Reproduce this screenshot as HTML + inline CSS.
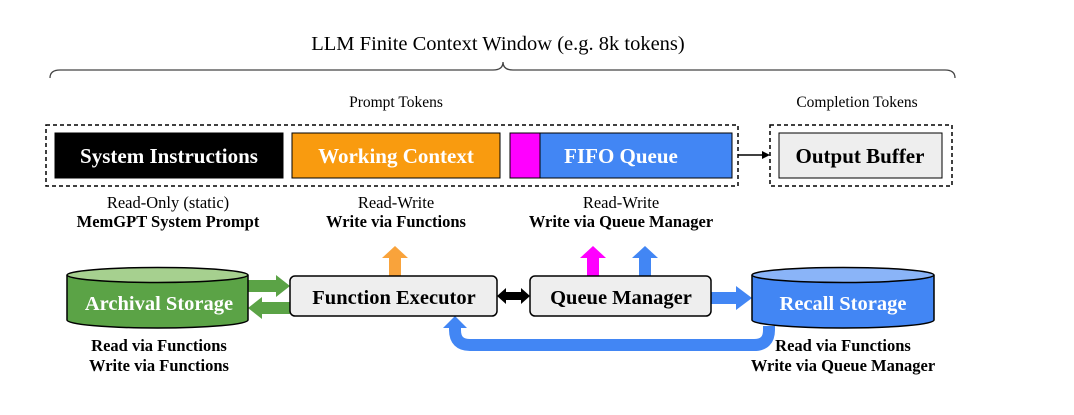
<!DOCTYPE html>
<html><head><style>
body{margin:0;background:#fff;}
svg{display:block;font-family:"Liberation Serif",serif;}
</style></head><body>
<svg width="1074" height="415" viewBox="0 0 1074 415" xmlns="http://www.w3.org/2000/svg">
<text x="498" y="50" font-size="20.5" text-anchor="middle">LLM Finite Context Window (e.g. 8k tokens)</text>
<path d="M50 78 Q50 70 60 70 L493 70 Q503 70 503 62 Q503 70 513 70 L945 70 Q955 70 955 78" fill="none" stroke="#444" stroke-width="1.3"/>
<text x="396" y="107" font-size="15.5" text-anchor="middle">Prompt Tokens</text>
<text x="857" y="107" font-size="15.5" text-anchor="middle">Completion Tokens</text>
<rect x="46" y="125" width="692" height="61" fill="none" stroke="#000" stroke-width="1.5" stroke-dasharray="4,3"/>
<rect x="770" y="125" width="182" height="61" fill="none" stroke="#000" stroke-width="1.5" stroke-dasharray="4,3"/>
<rect x="55" y="133" width="228" height="45" fill="#000" stroke="#000"/>
<text x="169" y="163" font-size="21" font-weight="bold" fill="#fff" text-anchor="middle">System Instructions</text>
<rect x="292" y="133" width="208" height="45" fill="#f99b0f" stroke="#000"/>
<text x="396" y="163" font-size="21" font-weight="bold" fill="#fff" text-anchor="middle">Working Context</text>
<rect x="510" y="133" width="30" height="45" fill="#ff00ff" stroke="#000"/>
<rect x="540" y="133" width="192" height="45" fill="#4286f4" stroke="#000"/>
<text x="621" y="163" font-size="21" font-weight="bold" fill="#fff" text-anchor="middle">FIFO Queue</text>
<line x1="738" y1="155" x2="764" y2="155" stroke="#000" stroke-width="1.5"/>
<polygon points="770,155 762,151 762,159" fill="#000"/>
<rect x="779" y="133" width="163" height="45" fill="#eee" stroke="#000"/>
<text x="860" y="163" font-size="21" font-weight="bold" text-anchor="middle">Output Buffer</text>
<text x="168" y="208" font-size="16.5" text-anchor="middle">Read-Only (static)</text>
<text x="168" y="227" font-size="16.5" font-weight="bold" text-anchor="middle">MemGPT System Prompt</text>
<text x="396" y="208" font-size="16.5" text-anchor="middle">Read-Write</text>
<text x="396" y="227" font-size="16.5" font-weight="bold" text-anchor="middle">Write via Functions</text>
<text x="621" y="208" font-size="16.5" text-anchor="middle">Read-Write</text>
<text x="621" y="227" font-size="16.5" font-weight="bold" text-anchor="middle">Write via Queue Manager</text>
<polygon points="389,276 389,258 382,258 395,246 408,258 401,258 401,276" fill="#f9a33b"/>
<polygon points="587,276 587,258 580,258 593,246 606,258 599,258 599,276" fill="#ff00ff"/>
<polygon points="639,276 639,258 632,258 645,246 658,258 651,258 651,276" fill="#4286f4"/>
<polygon points="248,280 276,280 276,275 290,286 276,297 276,292 248,292" fill="#5ba346"/>
<polygon points="290,302 262,302 262,297 248,308 262,319 262,314 290,314" fill="#5ba346"/>
<polygon points="497,296 506,288 506,292 521,292 521,288 530,296 521,304 521,300 506,300 506,304" fill="#000"/>
<polygon points="711,292 736,292 736,286 752,298 736,310 736,304 711,304" fill="#4286f4"/>
<path d="M769 326 L769 330 Q769 345 754 345 L470 345 Q455 345 455 330 L455 326" fill="none" stroke="#4286f4" stroke-width="12"/>
<polygon points="455,316 443,328 467,328" fill="#4286f4"/>
<path d="M67 275 L67 320 A90.5 8 0 0 0 248 320 L248 275" fill="#5ba346" stroke="#000" stroke-width="1.5"/>
<ellipse cx="157.5" cy="275" rx="90.5" ry="7.5" fill="#a6d08f" stroke="#000" stroke-width="1.5"/>
<text x="159" y="310" font-size="20.5" font-weight="bold" fill="#fff" text-anchor="middle">Archival Storage</text>
<path d="M752 275 L752 320 A91 8 0 0 0 934 320 L934 275" fill="#4286f4" stroke="#000" stroke-width="1.5"/>
<ellipse cx="843" cy="275" rx="91" ry="7.5" fill="#8ab4f8" stroke="#000" stroke-width="1.5"/>
<text x="843" y="310" font-size="20.5" font-weight="bold" fill="#fff" text-anchor="middle">Recall Storage</text>
<rect x="290" y="276" width="207" height="40" rx="5" fill="#eee" stroke="#000" stroke-width="1.5"/>
<text x="394" y="304" font-size="20.5" font-weight="bold" text-anchor="middle">Function Executor</text>
<rect x="530" y="276" width="181" height="40" rx="5" fill="#eee" stroke="#000" stroke-width="1.5"/>
<text x="621" y="304" font-size="20.5" font-weight="bold" text-anchor="middle">Queue Manager</text>
<text x="159" y="351" font-size="16.5" font-weight="bold" text-anchor="middle">Read via Functions</text>
<text x="159" y="371" font-size="16.5" font-weight="bold" text-anchor="middle">Write via Functions</text>
<text x="843" y="351" font-size="16.5" font-weight="bold" text-anchor="middle">Read via Functions</text>
<text x="843" y="371" font-size="16.5" font-weight="bold" text-anchor="middle">Write via Queue Manager</text>
</svg>
</body></html>
